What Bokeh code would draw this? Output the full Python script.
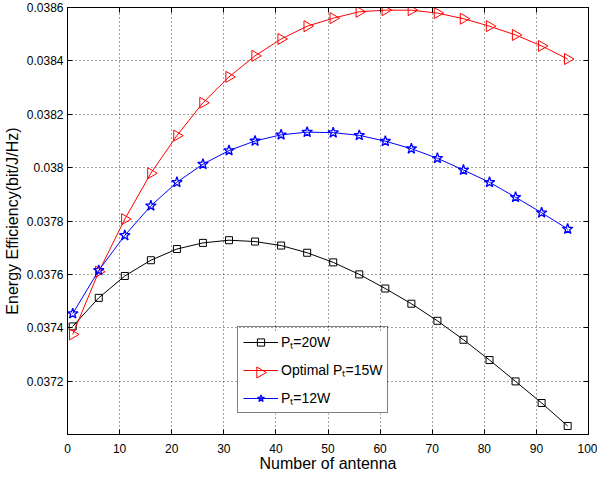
import math
from bokeh.plotting import figure
from bokeh.models import (FixedTicker, PrintfTickFormatter, LinearAxis, Legend,
                          LegendItem, Range1d)
from bokeh.embed import file_html
from bokeh.resources import INLINE

antennas = [1, 6, 11, 16, 21, 26, 31, 36, 41, 46, 51, 56, 61, 66, 71, 76, 81, 86, 91, 96]
ee_20w = [0.037405, 0.037512, 0.037594, 0.037653, 0.037695, 0.037718, 0.037728,
          0.037723, 0.037708, 0.037681, 0.037645, 0.037600, 0.037547, 0.037490,
          0.037426, 0.037355, 0.037279, 0.037199, 0.037118, 0.037032]
ee_opt_15w = [0.037375, 0.037610, 0.037807, 0.037979, 0.038120, 0.038243, 0.038340,
              0.038419, 0.038482, 0.038530, 0.038560, 0.038584, 0.038590, 0.038590,
              0.038579, 0.038558, 0.038530, 0.038497, 0.038456, 0.038407]
ee_12w = [0.037453, 0.037615, 0.037746, 0.037857, 0.037945, 0.038013, 0.038064,
          0.038100, 0.038123, 0.038133, 0.038131, 0.038121, 0.038099, 0.038071,
          0.038035, 0.037991, 0.037945, 0.037889, 0.037831, 0.037770]
x_ticks = [0, 10, 20, 30, 40, 50, 60, 70, 80, 90, 100]
y_ticks = [0.0372, 0.0374, 0.0376, 0.0378, 0.0380, 0.0382, 0.0384, 0.0386]
labels = ["P\u209c=20W", "Optimal P\u209c=15W", "P\u209c=12W"]

FONT = "Liberation Sans"
X0, X1 = 0, 100
Y0, Y1 = 0.0370, 0.0386

# layout (pixels)
FRAME_W, FRAME_H = 521, 427
LEG_X, LEG_Y = 170, 21
LEG_PAD, LEG_GW, LEG_ROW, LEG_SP = 5, 35, 18, 9
LEG_BOX_W = 149
LEG_BOX_H = 2 * LEG_PAD + 3 * LEG_ROW + 2 * LEG_SP


def px_to_x(px):
    return X0 + px / FRAME_W * (X1 - X0)


def py_to_y(py):
    return Y0 + py / FRAME_H * (Y1 - Y0)


p = figure(frame_width=FRAME_W, frame_height=FRAME_H,
           x_range=Range1d(X0, X1), y_range=Range1d(Y0, Y1),
           output_backend="svg", toolbar_location=None,
           min_border_top=7, min_border_right=9, min_border_left=67, min_border_bottom=0,
           background_fill_color="white", border_fill_color="white")

p.outline_line_color = "black"
p.outline_line_width = 1

for ax in (p.xaxis[0], p.yaxis[0]):
    ax.axis_line_color = "black"
    ax.major_tick_in = 5
    ax.major_tick_out = 0
    ax.minor_tick_line_color = None
    ax.major_tick_line_color = "black"
    ax.major_label_text_font = FONT
    ax.major_label_text_font_size = "12px"
    ax.major_label_text_color = "black"
    ax.axis_label_text_font = FONT
    ax.axis_label_text_font_size = "16px"
    ax.axis_label_text_font_style = "normal"
    ax.axis_label_text_color = "black"

p.xaxis.ticker = FixedTicker(ticks=x_ticks)
p.yaxis.ticker = FixedTicker(ticks=y_ticks)
p.yaxis.formatter = PrintfTickFormatter(format="%g")
p.xaxis.axis_label = "Number of antenna"
p.yaxis.axis_label = "Energy Efficiency(bit/J/Hz)"
p.xaxis.major_label_standoff = 9
p.xaxis.axis_label_standoff = -1
p.yaxis.major_label_standoff = 4
p.yaxis.axis_label_standoff = 3

top_ax = LinearAxis(ticker=FixedTicker(ticks=x_ticks), major_label_text_font_size="0px",
                    major_tick_in=5, major_tick_out=0, minor_tick_line_color=None,
                    axis_line_color="black", major_label_standoff=0)
top_ax.major_label_text_alpha = 0
right_ax = LinearAxis(ticker=FixedTicker(ticks=y_ticks), major_label_text_font_size="0px",
                      major_tick_in=5, major_tick_out=0, minor_tick_line_color=None,
                      axis_line_color="black", major_label_standoff=0)
right_ax.major_label_text_alpha = 0
p.add_layout(top_ax, "above")
p.add_layout(right_ax, "right")

p.xgrid.ticker = FixedTicker(ticks=x_ticks)
p.ygrid.ticker = FixedTicker(ticks=y_ticks)
p.grid.grid_line_color = "#444444"
p.grid.grid_line_dash = "1 3"
p.grid.grid_line_width = 1

# white legend background (drawn as a glyph so the rotated sample marker can sit on it)
p.quad(left=[px_to_x(LEG_X)], right=[px_to_x(LEG_X + LEG_BOX_W)],
       bottom=[py_to_y(LEG_Y)], top=[py_to_y(LEG_Y + LEG_BOX_H)],
       fill_color="white", line_color=None)

l1 = p.line(antennas, ee_20w, line_color="black", line_width=1)
s1 = p.scatter(antennas, ee_20w, marker="square", size=7, line_color="black",
               fill_color=None, line_width=1)
l2 = p.line(antennas, ee_opt_15w, line_color="red", line_width=1)
s2 = p.scatter(antennas, ee_opt_15w, marker="triangle", angle=-math.pi / 2, size=11,
               line_color="red", fill_color=None, line_width=1)
l3 = p.line(antennas, ee_12w, line_color="blue", line_width=1)
s3 = p.scatter(antennas, ee_12w, marker="star", size=11, line_color="blue",
               fill_color=None, line_width=1.3)

# right-pointing triangle sample for the legend (legend glyphs are never rotated)
sample_px = LEG_X + LEG_PAD + LEG_GW / 2
sample_py = LEG_Y + LEG_PAD + LEG_ROW + LEG_SP + LEG_ROW / 2
p.scatter([px_to_x(sample_px)], [py_to_y(sample_py)], marker="triangle",
          angle=-math.pi / 2, size=11, line_color="red", fill_color="white", line_width=1)

legend = Legend(items=[LegendItem(label=labels[0], renderers=[l1, s1]),
                       LegendItem(label=labels[1], renderers=[l2]),
                       LegendItem(label=labels[2], renderers=[l3, s3])],
                location=(LEG_X, LEG_Y))
legend.label_text_font = FONT
legend.label_text_font_size = "14px"
legend.label_text_color = "black"
legend.border_line_color = "black"
legend.border_line_width = 1
legend.background_fill_alpha = 0
legend.padding = LEG_PAD
legend.margin = 0
legend.spacing = LEG_SP
legend.glyph_width = LEG_GW
legend.glyph_height = LEG_ROW
legend.label_height = LEG_ROW
legend.label_standoff = 3
p.add_layout(legend, "center")

open("out.html", "w").write(file_html(p, INLINE))
